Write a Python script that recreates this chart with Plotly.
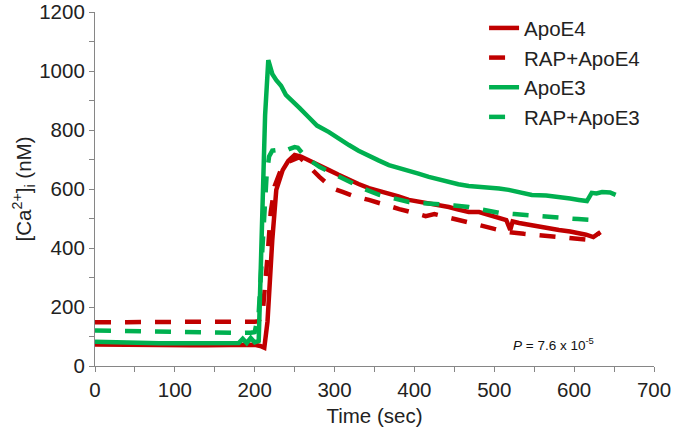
import plotly.graph_objects as go

# ---- data ----
t_e4 = [0, 20, 40, 60, 80, 100, 120, 140, 160, 180, 200, 207, 212, 216, 219, 222, 227, 235, 242, 250,
        258, 265, 272, 280, 293, 305, 318, 330, 343, 355, 368, 380, 393, 405, 418, 430, 443, 455, 468,
        481, 493, 506, 515, 520, 523, 531, 545, 556, 570, 581, 595, 606, 615, 624, 630, 633]
ca_e4 = [73, 72, 71, 70, 70, 70, 70, 70, 70, 71, 72, 68, 62, 150, 300, 427, 597, 664, 695, 715,
         710, 700, 692, 680, 664, 648, 630, 617, 603, 595, 586, 575, 563, 558, 552, 545, 539, 530, 522,
         522, 512, 502, 495, 461, 490, 485, 478, 471, 466, 461, 456, 451, 445, 437, 447, 454]

t_rap_e4 = [0, 20, 40, 60, 80, 100, 120, 140, 160, 180, 200, 205, 210, 216, 220, 225, 232, 240, 248, 256,
            263, 272, 281, 290, 300, 310, 325, 343, 360, 381, 398, 414, 425, 443, 460, 481, 500, 518, 537,
            556, 575, 590, 605, 622, 628, 631]
ca_rap_e4 = [148, 147, 148, 149, 150, 150, 150, 150, 150, 149, 150, 152, 180, 370, 520, 610, 660, 690, 700, 708,
             690, 664, 641, 620, 600, 590, 575, 563, 548, 532, 520, 508, 515, 502, 490, 478, 465, 454, 448,
             444, 440, 437, 432, 427, 440, 451]

t_e3 = [0, 20, 40, 60, 80, 100, 120, 140, 160, 170, 180, 185, 190, 195, 200, 205, 209, 213, 217, 222,
        227, 233, 239, 247, 256, 267, 278, 293, 305, 318, 330, 343, 355, 368, 380, 393, 405, 418, 430,
        443, 455, 468, 481, 493, 506, 518, 530, 547, 565, 585, 595, 606, 616, 622, 628, 635, 645, 652]
ca_e3 = [82, 80, 78, 78, 77, 77, 77, 77, 78, 80, 78, 92, 78, 95, 80, 85, 500, 850, 1037, 990,
         969, 950, 919, 900, 875, 845, 815, 793, 770, 749, 730, 715, 697, 681, 672, 664, 652, 641, 632,
         624, 616, 610, 607, 607, 602, 597, 590, 580, 578, 573, 568, 563, 559, 587, 585, 590, 588, 580]

t_rap_e3 = [0, 20, 40, 60, 80, 100, 120, 140, 160, 180, 195, 200, 205, 210, 215, 218, 222, 227, 235, 243,
            250, 254, 260, 268, 281, 300, 318, 337, 356, 375, 393, 412, 431, 450, 468, 487, 506, 525, 543,
            565, 585, 605, 622, 632]
ca_rap_e3 = [120, 119, 118, 116, 114, 113, 113, 112, 112, 112, 113, 115, 180, 450, 650, 710, 730, 732, 725, 735,
             742, 740, 720, 700, 675, 650, 624, 600, 580, 566, 556, 552, 549, 544, 539, 528, 519, 515, 512,
             507, 502, 498, 495, 493]

names = ["ApoE4", "RAP+ApoE4", "ApoE3", "RAP+ApoE3"]
RED = "#C00000"
GREEN = "#00B050"

fig = go.Figure()
series = [
    (t_e4, ca_e4, names[0], RED, "solid"),
    (t_rap_e4, ca_rap_e4, names[1], RED, "16px,14px"),
    (t_e3, ca_e3, names[2], GREEN, "solid"),
    (t_rap_e3, ca_rap_e3, names[3], GREEN, "16px,14px"),
]
for i, (x, y, n, c, d) in enumerate(series):
    fig.add_trace(go.Scatter(
        x=x, y=y, name=n, mode="lines", legendgroup=f"g{i}",
        line=dict(color=c, width=4.5, dash=d, shape="linear"),
    ))

axis_col = "#868686"
font_col = "#222222"
fig.update_layout(
    width=677, height=437,
    margin=dict(l=95, r=23, t=12, b=71, autoexpand=False),
    paper_bgcolor="white", plot_bgcolor="white",
    font=dict(family="Liberation Sans, Arial, sans-serif", size=20, color=font_col),
    showlegend=True,
    legend=dict(
        x=0.696, y=1.011, xanchor="left", yanchor="top",
        font=dict(size=20.5, color=font_col),
        bgcolor="rgba(0,0,0,0)", tracegroupgap=0, itemwidth=30,
    ),
    xaxis=dict(
        range=[0, 700], tickmode="linear", tick0=0, dtick=100,
        showgrid=False, zeroline=False,
        showline=True, linecolor=axis_col, linewidth=1.2,
        ticks="outside", ticklen=5, tickcolor=axis_col, tickwidth=1.2,
        minor=dict(dtick=50, ticks="outside", ticklen=5, tickcolor=axis_col, tickwidth=1.2, showgrid=False),
        tickfont=dict(size=20.5, color=font_col),
        title=dict(text="Time (sec)", font=dict(size=20.5, color=font_col), standoff=8),
    ),
    yaxis=dict(
        range=[0, 1200], tickmode="linear", tick0=0, dtick=200,
        showgrid=False, zeroline=False,
        showline=True, linecolor=axis_col, linewidth=1.2,
        ticks="outside", ticklen=5, tickcolor=axis_col, tickwidth=1.2,
        minor=dict(dtick=100, ticks="outside", ticklen=5, tickcolor=axis_col, tickwidth=1.2, showgrid=False),
        tickfont=dict(size=20.5, color=font_col),
        title=dict(text="[Ca<sup>2+</sup>]<sub>i</sub> (nM)", font=dict(size=20.5, color=font_col), standoff=2),
    ),
    annotations=[dict(
        x=627, y=75, xref="x", yref="y", xanchor="right", yanchor="middle",
        text="<i>P</i> = 7.6 x 10<sup>-5</sup>", showarrow=False,
        font=dict(size=13.5, color="#111111"),
    )],
)

fig.write_html("out.html")
